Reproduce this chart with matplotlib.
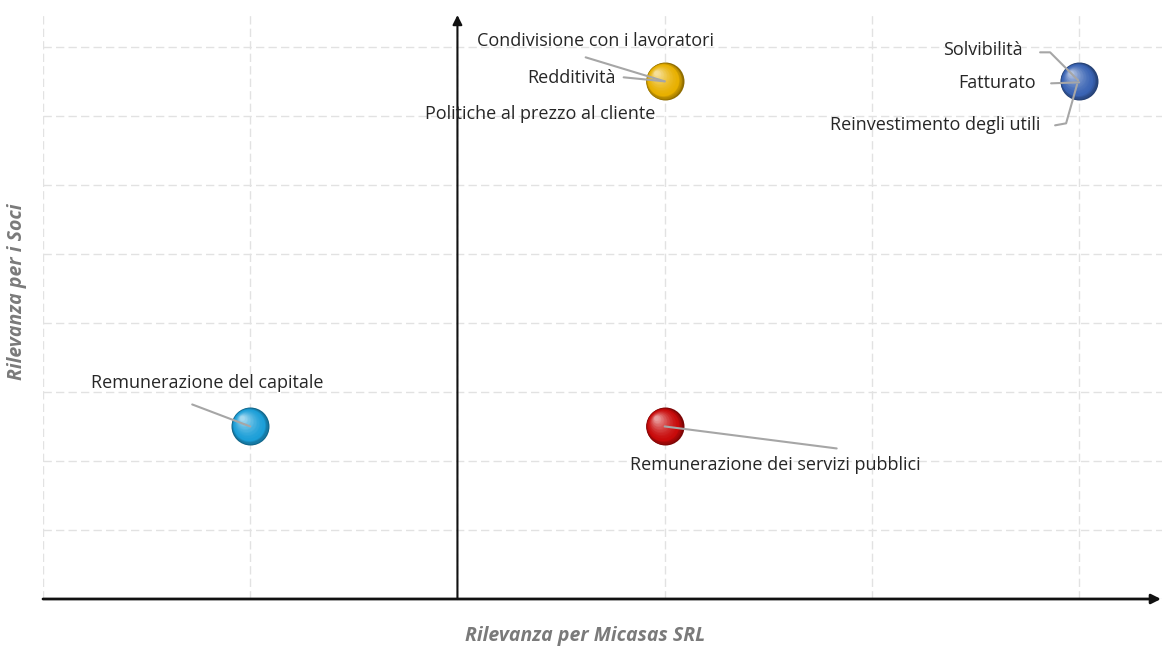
import matplotlib
matplotlib.use("Agg")
import matplotlib.pyplot as plt
import matplotlib.transforms as mtransforms
import numpy as np
from matplotlib.colors import to_rgb

# ---- data ----
groups = ["Remunerazione del capitale", "Remunerazione dei servizi pubblici",
          "Redditività", "Fatturato"]
x_vals = [1, 3, 3, 5]
y_vals = [2.5, 2.5, 7.5, 7.5]
colors = ["#1c9fd8", "#c80a0a", "#e8b000", "#3a64b4"]

# labels attached to each point: (point index, text, dx px, dy px, ha, leader path in px offsets)
labels = [
    (0, "Remunerazione del capitale", -43, 43, "center", [(-58, 22), (0, 0)]),
    (1, "Remunerazione dei servizi pubblici", 111, -39, "center", [(0, 0), (172, -22)]),
    (2, "Condivisione con i lavoratori", -69, 40, "center", [(-79, 24), (0, 0)]),
    (2, "Redditività", -49, 3, "right", [(-41, 4), (0, 0)]),
    (2, "Politiche al prezzo al cliente", -124, -33, "center", None),
    (3, "Solvibilità", -56, 31, "right", [(-39, 29), (-29, 29), (-1, 1)]),
    (3, "Fatturato", -43, -2, "right", [(-28, -2), (0, -1)]),
    (3, "Reinvestimento degli utili", -39, -44, "right", [(-24, -44), (-13, -42), (-2, -3)]),
]

x_label = "Rilevanza per Micasas SRL"
y_label = "Rilevanza per i Soci"
x_grid = [0, 1, 2, 3, 4, 5]
y_grid = [0, 1, 2, 3, 4, 5, 6, 7, 8]

# ---- figure ----
W, H, DPI = 1162, 648, 100
fig = plt.figure(figsize=(W / DPI, H / DPI), dpi=DPI)
ax = fig.add_axes([43 / W, 49 / H, (W - 43) / W, 586 / H])
xmax, ymax = 5.40, 8.49
ax.set_xlim(0, xmax)
ax.set_ylim(0, ymax)
for s in ax.spines.values():
    s.set_visible(False)
ax.set_xticks([])
ax.set_yticks([])

grid_kw = dict(color="#e2e2e2", lw=1.0, ls=(0, (6, 3)), zorder=0)
for gx in x_grid:
    ax.plot([gx, gx], [0, ymax], **grid_kw)
for gy in y_grid:
    ax.plot([0, xmax], [gy, gy], **grid_kw)

# axes arrows
ax.annotate("", xy=(xmax - 0.005, 0), xytext=(0, 0),
            arrowprops=dict(arrowstyle="-|>", color="#111111", lw=2.0,
                            mutation_scale=14, shrinkA=0, shrinkB=0),
            annotation_clip=False, zorder=3)
ax.annotate("", xy=(2, ymax - 0.03), xytext=(2, 0),
            arrowprops=dict(arrowstyle="-|>", color="#111111", lw=1.5,
                            mutation_scale=14, shrinkA=0, shrinkB=0),
            annotation_clip=False, zorder=3)

FONT = "Open Sans"
TXT = "#262626"


def anchor_trans(x, y):
    return mtransforms.Affine2D() + mtransforms.ScaledTranslation(x, y, ax.transData)


# leader lines and labels
for idx, text, dx, dy, ha, path in labels:
    tr = anchor_trans(x_vals[idx], y_vals[idx])
    if path is not None:
        px = [p[0] for p in path]
        py = [p[1] for p in path]
        ax.plot(px, py, transform=tr, color="#a6a6a6", lw=1.5, zorder=6,
                solid_capstyle="round")
    ax.text(dx, dy, text, transform=tr, ha=ha, va="center", fontsize=13,
            family=FONT, color=TXT, zorder=7)

# spheres: layered circles to mimic shading
R_PX = 19.0
n_layers = 26
for xv, yv, c in zip(x_vals, y_vals, colors):
    base = np.array(to_rgb(c))
    dark = base * 0.62
    light = base + (1 - base) * 0.6
    for i in range(n_layers):
        f = i / (n_layers - 1)
        r = R_PX * (1 - 0.88 * f)
        if f < 0.2:
            col = dark + (base - dark) * (f / 0.2)
        else:
            col = base + (light - base) * ((f - 0.2) / 0.8) ** 1.5
        off = (R_PX - r) * 0.5
        tr = ax.transData + mtransforms.ScaledTranslation(-off / DPI, off / DPI,
                                                          fig.dpi_scale_trans)
        diam_pt = 2 * r * 72 / DPI
        ax.scatter([xv], [yv], s=diam_pt ** 2, color=np.clip(col, 0, 1),
                   transform=tr, zorder=5, linewidths=0)

# axis titles
fig.text(585 / W, 1 - 636 / H, x_label, ha="center", va="center", fontsize=14,
         family=FONT, style="italic", weight="bold", color="#7a7a7a")
fig.text(17 / W, 1 - 292 / H, y_label, ha="center", va="center", fontsize=14,
         family=FONT, style="italic", weight="bold", color="#7a7a7a",
         rotation=90)

fig.savefig("out.png", dpi=DPI, facecolor="white")
